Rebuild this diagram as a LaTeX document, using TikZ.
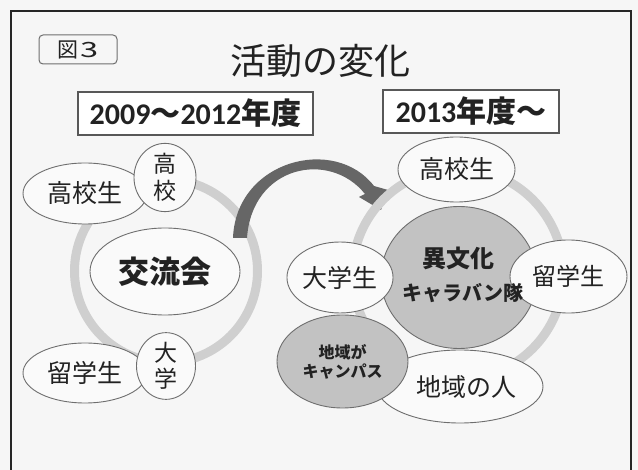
\documentclass[tikz,border=0pt]{standalone}
\usepackage{fontspec}
\usepackage{graphicx}
\setmainfont{Noto Sans CJK JP}
\newfontfamily\calib{Carlito}
\usetikzlibrary{shapes.geometric}
\definecolor{bgc}{HTML}{F6F6F6}
\definecolor{fillc}{HTML}{FAFAFA}
\definecolor{linec}{HTML}{6E6E6E}
\definecolor{ringc}{HTML}{CFCFCF}
\definecolor{darkg}{HTML}{C2C2C2}
\definecolor{arrowc}{HTML}{666666}
\definecolor{txt}{HTML}{222222}
\tikzset{
  bub/.style={ellipse, draw=linec, line width=0.9pt, fill=fillc, inner sep=0pt, text=txt, align=center},
  darkbub/.style={bub, fill=darkg},
  ring/.style={draw=ringc, line width=9pt},
  yearbox/.style={draw=linec!80!black, line width=1.1pt, fill=white, inner sep=0pt, text=txt, font=\fontsize{30}{32}\selectfont\bfseries}
}
\begin{document}
\begin{tikzpicture}[x=1pt, y=-1pt]
\useasboundingbox (0,0) rectangle (638,470);
\fill[bgc] (0,0) rectangle (638,470);
\draw[black!85, line width=2pt] (11,480) -- (11,11) -- (631,11) -- (631,480);

% label box
\node[draw=linec, line width=1pt, rounded corners=4pt, minimum width=78pt, minimum height=29pt, inner sep=0pt, text=txt, font=\fontsize{21}{23}\selectfont] (fig) at (78,49.5) {図\hspace{2pt}\scalebox{1.55}[1]{3}};
\node[text=txt, font=\fontsize{36}{38}\selectfont, inner sep=0pt] (title) at (320,61) {活動の変化};

\node[yearbox, minimum width=235pt, minimum height=43pt] (y1) at (195.5,113.5) {{\calib\bfseries 2009}～{\calib\bfseries 2012}年度};
\node[yearbox, minimum width=176pt, minimum height=43pt] (y2) at (471,111.5) {{\calib\bfseries 2013}年度～};

% left cluster
\draw[ring] (166,271) circle (91.5);
\node[bub, minimum width=150pt, minimum height=87pt, font=\fontsize{31}{33}\selectfont\bfseries] (kory) at (165,271.5) {交流会};
\node[bub, minimum width=124pt, minimum height=61pt, font=\fontsize{25}{27}\selectfont] (lhs) at (85,193.5) {高校生};
\node[bub, minimum width=62pt, minimum height=62pt, font=\fontsize{23}{27}\selectfont] (lk) at (165,177.5) {高\\校};
\node[bub, minimum width=124pt, minimum height=60pt, font=\fontsize{25}{27}\selectfont] (lrg) at (85,373) {留学生};
\node[bub, minimum width=59pt, minimum height=62pt, font=\fontsize{23}{26}\selectfont] (ld) at (166,366) {大\\学};

% arrow
\fill[arrowc] (233,238) .. controls (236,160) and (335,135) .. (374,186)
  -- (388,190) -- (381,210) -- (359,197) -- (365,194)
  .. controls (330,150) and (252,165) .. (247,238) -- cycle;

% right cluster
\draw[ring] (458,274) circle (105.5);
\node[darkbub, minimum width=156pt, minimum height=142pt] (ibk) at (459,277.5) {};
\node[bub, minimum width=166pt, minimum height=73pt, font=\fontsize{25}{27}\selectfont] (chiiki) at (460,386.5) {\hspace*{12pt}地域の人};
\node[darkbub, minimum width=131pt, minimum height=93pt, font=\fontsize{16}{19}\selectfont\bfseries] (camp) at (342.5,361.5) {地域が\\キャンパス};
\node[bub, minimum width=106pt, minimum height=71pt, font=\fontsize{25}{27}\selectfont] (rds) at (340,277.5) {大学生};
\node[bub, minimum width=117pt, minimum height=73pt, font=\fontsize{24}{26}\selectfont] (rrg) at (568.5,276.5) {留学生};
\node[bub, minimum width=117pt, minimum height=65pt, font=\fontsize{25}{27}\selectfont] (rhs) at (456.5,169.5) {高校生};
\node[text=txt, font=\fontsize{24}{26}\selectfont\bfseries, inner sep=0pt] (ibk1) at (458,258) {異文化};
\node[text=txt, font=\fontsize{20}{22}\selectfont\bfseries, inner sep=0pt] (ibk2) at (463,293) {キャラバン隊};
\end{tikzpicture}
\end{document}
